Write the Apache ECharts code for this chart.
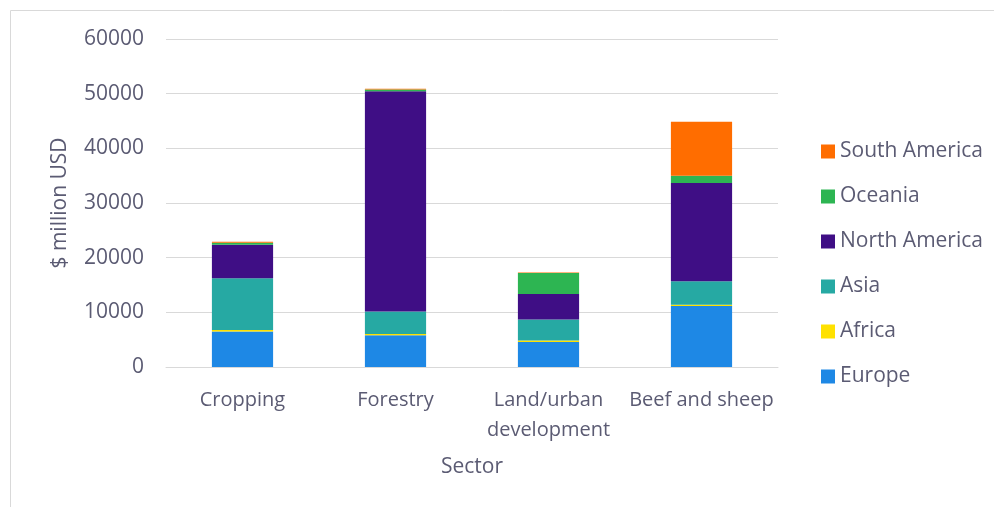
<!DOCTYPE html>
<html><head><meta charset="utf-8">
<script src="https://cdn.jsdelivr.net/npm/echarts@6/dist/echarts.min.js"></script>
<style>html,body{margin:0;padding:0;background:#fff}#c{width:994px;height:507px}</style>
</head><body><div id="c"></div>
<script>
const categories = ['Cropping', 'Forestry', 'Land/urban\ndevelopment', 'Beef and sheep'];
const europe       = [6500, 5800, 4570, 11150];
const africa       = [250, 250, 300, 250];
const asia         = [9500, 4100, 3800, 4270];
const northAmerica = [6100, 40300, 4680, 17970];
const oceania      = [400, 300, 3830, 1360];
const southAmerica = [150, 150, 100, 9860];
const yTicks = [0, 10000, 20000, 30000, 40000, 50000, 60000];

const txt = '#5b5b73';
const font = '"Open Sans", "Noto Sans", sans-serif';
const chart = echarts.init(document.getElementById('c'));
const mk = (name, data, color) => ({name, type: 'bar', stack: 'total', data, barCategoryGap: '60%', itemStyle: {color}, emphasis: {disabled: true}});
chart.setOption({
  animation: false,
  textStyle: {fontFamily: font},
  graphic: [{type: 'rect', shape: {x: 10.5, y: 10.5, width: 1000, height: 520}, style: {fill: 'none', stroke: '#d9d9d9', lineWidth: 1}, z: -1}],
  grid: {left: 166, right: 216, top: 39, bottom: 140, containLabel: false},
  legend: {
    orient: 'vertical', left: 816, top: 135, itemGap: 22, itemWidth: 14, itemHeight: 14, icon: 'rect',
    data: ['South America', 'Oceania', 'North America', 'Asia', 'Africa', 'Europe'],
    textStyle: {color: txt, fontSize: 21, lineHeight: 23, fontFamily: font}
  },
  xAxis: {
    type: 'category', data: categories, name: 'Sector', nameLocation: 'middle', nameGap: 90,
    nameTextStyle: {color: txt, fontSize: 21, fontFamily: font},
    axisLine: {lineStyle: {color: '#d9d9d9'}}, axisTick: {show: false},
    axisLabel: {color: txt, fontSize: 20, fontFamily: font, margin: 18, lineHeight: 30, interval: 0}
  },
  yAxis: {
    type: 'value', min: 0, max: 60000, interval: 10000, name: '$ million USD', nameLocation: 'middle', nameGap: 95,
    nameTextStyle: {color: txt, fontSize: 21, fontFamily: font},
    axisLabel: {color: txt, fontSize: 21, fontFamily: font, margin: 22, formatter: v => yTicks.includes(v) ? String(v) : ''},
    splitLine: {lineStyle: {color: '#d9d9d9', width: 1}}, axisLine: {show: false}, axisTick: {show: false}
  },
  series: [
    mk('Europe', europe, '#1e88e5'),
    mk('Africa', africa, '#ffe100'),
    mk('Asia', asia, '#26a9a3'),
    mk('North America', northAmerica, '#3f0e85'),
    mk('Oceania', oceania, '#2db552'),
    mk('South America', southAmerica, '#ff6d00')
  ]
});
</script></body></html>
